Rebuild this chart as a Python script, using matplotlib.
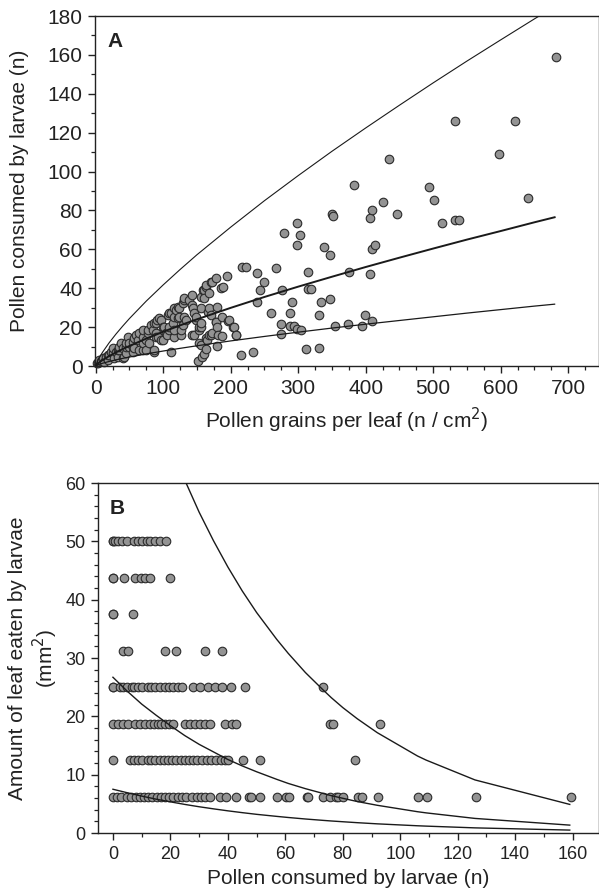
import numpy as np
import matplotlib
matplotlib.use("Agg")
import matplotlib.pyplot as plt
from matplotlib.ticker import MultipleLocator

plt.rcParams['font.family'] = ['Liberation Sans', 'DejaVu Sans']

# ---- panel A: pollen density vs pollen consumed ----
a_x = [1.5, 3, 5.4, 8, 10.4, 12, 15.3, 17.8, 17.8, 20.2, 22.7, 25.2, 25.2, 27.7, 30, 32.6, 32.6,
       35, 35, 37.5, 40, 40, 42.5, 45, 45, 45, 47.4, 50, 50, 54.8, 54.8, 54.8, 57.3, 57, 59.8,
       62.2, 64.7, 64.7, 69.6, 69.6, 69.6, 69.6, 74.6, 74.6, 77, 77, 79.5, 82, 84.4, 86.4, 86.9,
       86.4, 88.9, 89.4, 89.4, 91.4, 91.9, 94.3, 96.3, 96.8, 99.3, 99.3, 101.2, 104.2, 106, 106.7,
       109, 109, 109, 111, 111, 114, 116, 116, 116, 116.5, 119, 121.5, 121.5, 123, 124, 125.9,
       126.4, 128.9, 128.9, 130.9, 131, 131, 133.8, 138.8, 143.2, 143.2, 143.2, 143.7, 145, 146,
       148, 148.6, 151, 153, 153.6, 153.6, 155.6, 155.6, 155.6, 156, 156, 158, 158.5, 160.5,
       160.5, 161, 163, 163, 163, 163.5, 164.4, 166, 168, 168.4, 168.4, 170.4, 170.4, 170.9,
       172.8, 172.8, 178, 178, 179, 180.2, 180.2, 180.2, 180.7, 185.2, 187.7, 187.7, 188, 195,
       196.5, 197.5, 204, 205.4, 207.4, 208.4, 215, 217.3, 222, 232.6,
       239.5, 243.5, 239.5, 250, 259.3, 266.7, 279, 275.6, 275, 275, 287.4, 290.9, 287.4, 293.8,
       298.8, 303.7, 298.8, 302.7, 298.8, 311, 315, 315, 318.5, 330.9, 330.9, 334, 339, 346.7,
       347, 350.6, 351.6, 354.6, 374.3, 375, 382.7, 394, 398.5, 406, 406, 410, 410, 414, 410,
       426, 434, 446, 493.8, 502, 513.6, 533, 538, 533, 597.5, 621, 641, 681.5]
a_y = [1.4, 1.4, 3.1, 2.5, 3.9, 2, 4.8, 3.1, 5.7, 5.7, 7, 6.5, 9.1, 3.9, 7.4, 4.8, 8.2,
       8.2, 10, 11.7, 3.9, 9.1, 4.8, 6.5, 9.9, 11.7, 15, 10, 11.7, 7.4, 10, 12.5, 9.1, 14.2, 16,
       13.4, 8.2, 16.8, 8.2, 11.7, 15.1, 18.5, 8.2, 13.4, 16.8, 18.5, 11.7, 21.1, 18.5, 7.4, 8.2,
       21.9, 16.8, 15.1, 21.9, 23.7, 15.1, 24.5, 13.4, 23.7, 13.4, 20.2, 20.2, 16.8, 16, 26.2,
       18.5, 20.2, 27.1, 7.4, 27.1, 21.9, 15.1, 18.5, 29.7, 25.4, 28.8, 24.5, 30.5, 29.7, 25.4, 16,
       18.5, 21, 32.2, 33.9, 25.4, 35, 23.7, 33.9, 16, 31.4, 36.5, 29.7, 27, 16,
       23.7, 25.4, 2.7, 18.5, 11.7, 20.2, 10.8, 20.2, 29.7, 22, 35.7, 4.8, 39.1, 6.2,
       39.1, 34.8, 8.6, 14.2, 40.8, 41.7, 13.4, 27.9, 29.7, 16, 37.4, 15.9, 26.2, 43.4,
       16.8, 43.4, 22.8, 45.1, 22.8, 10.3, 20.2, 30.5, 16, 40.3, 15.4, 25.4, 40.8, 46.3,
       23.1, 23.7, 20.2, 20.2, 15.9, 15.9, 5.7, 51.1, 51.1, 7.4,
       48, 39.1, 33.1, 43.4, 27.4, 50.2, 68.2, 39.1, 21.6, 16.5, 27.4, 33.1, 20.6, 20.6,
       18.9, 18.5, 73.4, 67.2, 62.2, 8.6, 48.2, 39.4, 39.4, 9.4, 26.2, 33.1, 61, 57.3,
       34.5, 78, 77, 20.6, 21.4, 48.2, 93.3, 20.6, 26.4, 76.1, 47.3, 80.2, 60.3, 62.2, 23.3,
       84.2, 106.3, 78.3, 92.2, 85.2, 73.4, 75, 75, 126.2, 109, 126.2, 86.2, 159.1]

# fitted curves (upper, central, lower)
a_fit_x = [0, 5, 10, 20, 30, 40, 50, 75, 100, 125, 150, 200, 250, 300, 350, 400, 450, 500,
           550, 600, 650, 680]
a_fit_up = [0, 4.08, 6.99, 11.97, 16.4, 20.5, 24.4, 33.4, 41.7, 49.6, 57.2, 71.4, 85.0, 97.9,
            110.4, 122.4, 134.1, 145.6, 156.8, 167.7, 178.5, 184.8]
a_fit_mid = [0, 1.77, 3.01, 5.12, 6.98, 8.7, 10.3, 14.1, 17.6, 20.9, 24.0, 29.9, 35.5, 40.8,
             45.9, 50.9, 55.7, 60.4, 65.0, 69.4, 73.9, 76.5]
a_fit_low = [0, 0.84, 1.4, 2.34, 3.16, 3.91, 4.61, 6.22, 7.7, 9.08, 10.4, 12.9, 15.2, 17.4,
             19.5, 21.5, 23.4, 25.3, 27.2, 29.0, 30.8, 31.8]

# ---- panel B: pollen consumed vs leaf area eaten ----
b_levels = [50, 43.75, 37.5, 31.25, 25, 18.75, 12.5, 6.25]
b_x50 = [0, 0, 0.7, 1.6, 3, 4.8, 7.4, 8.6, 10, 11.7, 12.9, 14.6, 16.4, 18.3]
b_x4375 = [0, 0, 3.9, 7.8, 9.6, 11.1, 12.9, 20]
b_x375 = [0, 0, 7]
b_x3125 = [3.6, 5.3, 18.1, 21.9, 32, 37.8]
b_x25 = [0, 0, 2.4, 3.6, 4.8, 6.5, 7.4, 8.8, 10.2, 12.1, 13.4, 14.6, 16.3, 18.1, 19.5, 21,
         22.7, 24.1, 27.9, 30.3, 33.2, 35.5, 37.8, 41, 46, 73.2]
b_x1875 = [0, 1.9, 3.6, 5.3, 7.7, 9.4, 11.1, 12.9, 14.4, 15.8, 16.9, 18.1, 19.5, 21, 25,
           26.8, 28.5, 30.3, 32, 33.7, 39, 41.3, 43, 75.5, 76.6, 92.9]
b_x125 = [0, 5.9, 7.4, 8.8, 10, 12.1, 13.4, 14.8, 16.3, 17.9, 19.2, 20.6, 22.1, 23.7, 25,
          26.4, 27.9, 29.4, 31.1, 32.6, 34.1, 35.7, 37.6, 39, 40.1, 45.1, 51.1, 84.2]
b_x625 = [0, 1.3, 2.8, 4.8, 6.3, 7.9, 9.4, 10.9, 12.3, 13.7, 15.2, 16.7, 18.1, 19.5, 21,
          22.5, 24.1, 25.6, 27.4, 29.1, 30.6, 32, 33.7, 37.2, 39.5, 43, 47.4, 48.2, 51.1, 57.2,
          60.4, 61.3, 67.4, 68, 73.2, 75.5, 77.8, 78.4, 80.2, 85.4, 86.6, 92.4, 106.3, 109.4,
          126.5, 159.5]
b_xs = [b_x50, b_x4375, b_x375, b_x3125, b_x25, b_x1875, b_x125, b_x625]

b_fit_x = [0, 5, 10, 15, 20, 25, 30, 35, 40, 45, 50, 57, 61, 67, 73, 76, 80, 85, 92, 106, 109,
           126, 159]
b_fit_up = [96.6, 88.0, 80.1, 72.9, 66.4, 60.5, 55.0, 50.1, 45.6, 41.5, 37.8, 33.2, 30.8, 27.5,
            24.6, 23.2, 21.5, 19.6, 17.2, 13.2, 12.5, 9.1, 4.9]
b_fit_mid = [26.7, 24.3, 22.1, 20.2, 18.4, 16.7, 15.2, 13.9, 12.6, 11.5, 10.5, 9.2, 8.5, 7.6,
             6.8, 6.4, 5.95, 5.4, 4.75, 3.65, 3.45, 2.5, 1.35]
b_fit_low = [7.5, 6.9, 6.33, 5.8, 5.34, 4.9, 4.5, 4.14, 3.8, 3.49, 3.2, 2.85, 2.66, 2.4, 2.17,
             2.06, 1.93, 1.77, 1.57, 1.24, 1.18, 0.88, 0.5]

txt = '#222222'
mfc = '#939393'
mec = '#2b2b2b'

fig = plt.figure(figsize=(5.99, 8.96), dpi=100)
W, H = 599, 896
axA = fig.add_axes([95 / W, 1 - 366 / H, 503.5 / W, 350 / H])
axB = fig.add_axes([98 / W, 1 - 833 / H, 500.5 / W, 350 / H])


def style_axis(ax, lsize):
    for s in ax.spines.values():
        s.set_linewidth(1.0)
        s.set_color('#222222')
    ax.tick_params(which='major', direction='out', length=5, width=1.0,
                   labelsize=lsize, colors=txt, pad=4)
    ax.tick_params(which='minor', direction='out', length=3, width=0.9, colors=txt)


# panel A
axA.scatter(a_x, a_y, s=38, facecolor=mfc, edgecolor=mec, linewidth=0.8, zorder=2, clip_on=False)
axA.plot(a_fit_x, a_fit_up, color='#1a1a1a', lw=0.8, zorder=3)
axA.plot(a_fit_x, a_fit_mid, color='#1a1a1a', lw=1.4, zorder=3)
axA.plot(a_fit_x, a_fit_low, color='#1a1a1a', lw=0.9, zorder=3)
axA.set_xlim(-1, 745)
axA.set_ylim(0, 180)
axA.xaxis.set_major_locator(MultipleLocator(100))
axA.xaxis.set_minor_locator(MultipleLocator(25))
axA.yaxis.set_major_locator(MultipleLocator(20))
axA.yaxis.set_minor_locator(MultipleLocator(10))
style_axis(axA, 15)
axA.set_xticks([0, 100, 200, 300, 400, 500, 600, 700])
axA.set_xlabel('Pollen grains per leaf (n / cm$^2$)', fontsize=15, color=txt, labelpad=6)
axA.set_ylabel('Pollen consumed by larvae (n)', fontsize=15, color=txt, labelpad=13)
axA.text(0.024, 0.954, 'A', transform=axA.transAxes, fontsize=15, fontweight='bold',
         va='top', ha='left', color=txt)

# panel B
for lvl, xs in zip(b_levels, b_xs):
    axB.scatter(xs, [lvl] * len(xs), s=38, facecolor=mfc, edgecolor=mec, linewidth=0.8, zorder=2)
axB.plot(b_fit_x, b_fit_up, color='#1a1a1a', lw=1.0, zorder=3)
axB.plot(b_fit_x, b_fit_mid, color='#1a1a1a', lw=1.0, zorder=3)
axB.plot(b_fit_x, b_fit_low, color='#1a1a1a', lw=1.0, zorder=3)
axB.set_xlim(-5.2, 169)
axB.set_ylim(0, 60)
axB.xaxis.set_major_locator(MultipleLocator(20))
axB.xaxis.set_minor_locator(MultipleLocator(10))
axB.yaxis.set_major_locator(MultipleLocator(10))
axB.yaxis.set_minor_locator(MultipleLocator(2))
style_axis(axB, 13)
axB.set_xticks([0, 20, 40, 60, 80, 100, 120, 140, 160])
axB.set_xlabel('Pollen consumed by larvae (n)', fontsize=15, color=txt, labelpad=5)
axB.set_ylabel('Amount of leaf eaten by larvae\n(mm$^2$)', fontsize=15, color=txt,
               labelpad=4, linespacing=1.15)
axB.text(0.024, 0.954, 'B', transform=axB.transAxes, fontsize=15, fontweight='bold',
         va='top', ha='left', color=txt)

fig.savefig('out.png', dpi=100)
